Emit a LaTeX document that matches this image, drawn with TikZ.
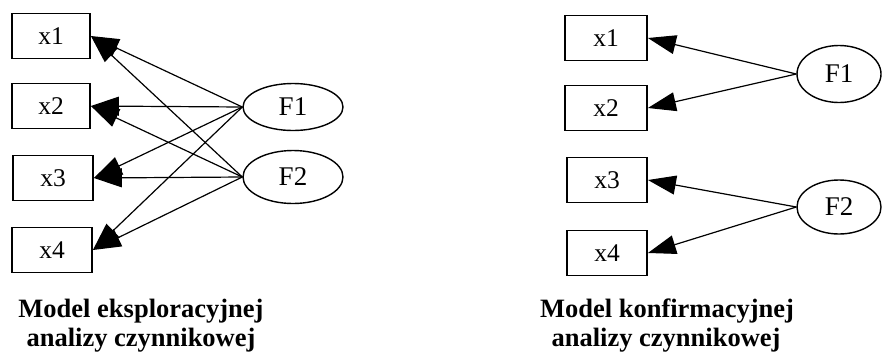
\documentclass[tikz,border=0pt]{standalone}
\usepackage{fontspec}
\setmainfont{Liberation Serif}
\usetikzlibrary{arrows.meta,shapes.geometric}
\begin{document}
\begin{tikzpicture}[x=1pt,y=-1pt,
  var/.style={draw,line width=1.8pt,minimum width=78pt,minimum height=45pt,inner sep=0pt,font=\fontsize{25.5}{26}\selectfont},
  fac/.style={draw,ellipse,line width=1.4pt,inner sep=0pt,font=\fontsize{27}{27}\selectfont},
  load/.style={line width=1.2pt,-{Triangle[length=28pt,width=19pt]}},
  captiontext/.style={anchor=base,inner sep=0pt,font=\fontsize{26.5}{30}\selectfont\bfseries}]
\useasboundingbox (0,0) rectangle (888,354);

% exploratory model
\node[var] (a1) at (51,36) {x1};
\node[var] (a2) at (51,106) {x2};
\node[var,minimum width=80pt] (a3) at (53,178) {x3};
\node[var,minimum width=80pt] (a4) at (52,250) {x4};
\node[fac,minimum width=100pt,minimum height=47pt] (aF1) at (293,107) {F1};
\node[fac,minimum width=100pt,minimum height=53pt] (aF2) at (293,177) {F2};
\foreach \f in {aF1,aF2}
  \foreach \v in {a1,a2,a3,a4}
    \draw[load] (\f.west) -- (\v.east);
\node[captiontext] (capA1) at (141,317) {Model eksploracyjnej};
\node[captiontext] (capA2) at (141,346) {analizy czynnikowej};

% confirmatory model
\node[var,minimum width=82pt] (b1) at (606,38) {x1};
\node[var,minimum width=82pt] (b2) at (606,108) {x2};
\node[var,minimum width=80pt] (b3) at (607,180) {x3};
\node[var,minimum width=80pt] (b4) at (607,253) {x4};
\node[fac,minimum width=84pt,minimum height=57pt] (bF1) at (839,74) {F1};
\node[fac,minimum width=84pt,minimum height=54pt] (bF2) at (839,207) {F2};
\draw[load] (bF1.west) -- (b1.east);
\draw[load] (bF1.west) -- (b2.east);
\draw[load] (bF2.west) -- (b3.east);
\draw[load] (bF2.west) -- (b4.east);
\node[captiontext] (capB1) at (667,317) {Model konfirmacyjnej};
\node[captiontext] (capB2) at (666,346) {analizy czynnikowej};
\end{tikzpicture}
\end{document}
